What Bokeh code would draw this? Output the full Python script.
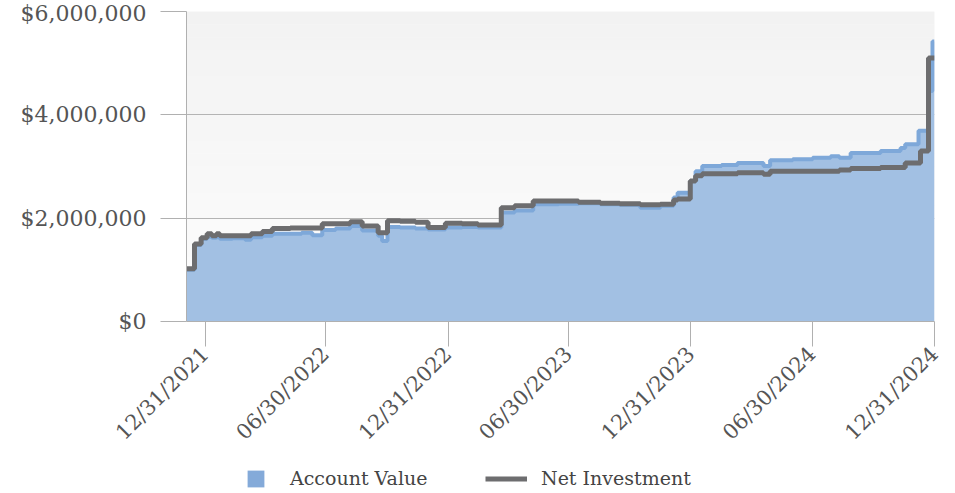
import math
import numpy as np
import pandas as pd
from bokeh.plotting import figure
from bokeh.layouts import column
from bokeh.models import (FixedTicker, NumeralTickFormatter, DatetimeTickFormatter,
                          Range1d, Legend, LegendItem, BoxAnnotation, ColumnDataSource)
from bokeh.embed import file_html
from bokeh.resources import INLINE

# ---------------- data ----------------
dates = [
    "2021-12-03", "2021-12-15", "2021-12-25", "2022-01-03", "2022-01-10", "2022-01-17",
    "2022-01-22", "2022-02-10", "2022-03-01", "2022-03-10", "2022-03-27", "2022-04-11",
    "2022-05-08", "2022-05-25", "2022-06-10", "2022-06-25", "2022-07-15", "2022-08-06",
    "2022-08-24", "2022-09-17", "2022-09-23", "2022-10-01", "2022-10-20", "2022-11-12",
    "2022-12-01", "2022-12-27", "2023-01-21", "2023-02-14", "2023-03-21", "2023-04-10",
    "2023-05-08", "2023-06-15", "2023-07-15", "2023-08-17", "2023-09-15", "2023-10-16",
    "2023-11-15", "2023-12-05", "2023-12-11", "2023-12-30", "2024-01-07", "2024-01-17",
    "2024-02-15", "2024-03-10", "2024-04-18", "2024-04-28", "2024-06-01", "2024-07-01",
    "2024-07-28", "2024-08-10", "2024-08-27", "2024-10-11", "2024-11-10", "2024-11-17",
    "2024-12-07", "2024-12-10", "2024-12-22", "2024-12-28", "2024-12-31",
]
account_value = [
    1000000, 1480000, 1600000, 1640000, 1620000, 1630000,
    1600000, 1610000, 1580000, 1630000, 1660000, 1700000,
    1700000, 1720000, 1670000, 1770000, 1800000, 1850000,
    1760000, 1660000, 1560000, 1830000, 1820000, 1800000,
    1780000, 1820000, 1830000, 1820000, 2110000, 2150000,
    2270000, 2280000, 2290000, 2270000, 2260000, 2200000,
    2240000, 2400000, 2490000, 2720000, 2910000, 3010000,
    3030000, 3070000, 3010000, 3120000, 3140000, 3170000,
    3200000, 3170000, 3260000, 3300000, 3360000, 3430000,
    3690000, 3690000, 4460000, 5420000, 5420000,
]
net_investment = [
    1020000, 1500000, 1620000, 1700000, 1660000, 1700000,
    1660000, 1660000, 1660000, 1700000, 1740000, 1800000,
    1810000, 1810000, 1810000, 1890000, 1890000, 1930000,
    1850000, 1720000, 1720000, 1950000, 1940000, 1920000,
    1820000, 1900000, 1890000, 1870000, 2200000, 2240000,
    2330000, 2330000, 2310000, 2290000, 2280000, 2260000,
    2270000, 2350000, 2370000, 2720000, 2820000, 2860000,
    2860000, 2880000, 2850000, 2910000, 2910000, 2910000,
    2910000, 2930000, 2960000, 2980000, 2980000, 3070000,
    3070000, 3300000, 5100000, 5100000, 5100000,
]
tick_dates = ["2021-12-31", "2022-06-30", "2022-12-31", "2023-06-30",
              "2023-12-31", "2024-06-30", "2024-12-31"]
y_ticks = [0, 2000000, 4000000, 6000000]
legend_labels = ["Account Value", "Net Investment"]

# ---------------- styling ----------------
FONT = "DejaVu Serif"
AREA_FILL = "#a2c0e3"
AREA_LINE = "#7ea8d9"
SWATCH = "#84aad9"
NET_COLOR = "#6d6d6f"
AXIS_COLOR = "#b0b0b0"
TEXT_COLOR = "#555555"
W = 947

x = pd.to_datetime(dates)
src = ColumnDataSource(dict(
    x=x,
    acct=np.array(account_value, dtype=float),
    net=np.array(net_investment, dtype=float),
    zero=np.zeros(len(dates)),
))

def ms(d):
    return pd.Timestamp(d).value / 1e6

p = figure(
    width=W, height=458,
    x_axis_type="datetime",
    x_range=Range1d(ms(dates[0]), ms(dates[-1])),
    y_range=Range1d(y_ticks[0], y_ticks[-1]),
    output_backend="svg", toolbar_location=None,
    min_border_left=186, min_border_right=13,
    min_border_top=11, min_border_bottom=137,
)
p.outline_line_color = None
p.border_fill_color = "white"
p.background_fill_color = "#f8f8f8"

# subtle vertical gradient in the plot area
n_bands = 24
top_c = np.array([0xf2, 0xf2, 0xf2])
bot_c = np.array([0xfd, 0xfd, 0xfd])
edges = np.linspace(y_ticks[0], y_ticks[-1], n_bands + 1)
for i in range(n_bands):
    t = (i + 0.5) / n_bands
    c = (bot_c + (top_c - bot_c) * t).round().astype(int)
    p.add_layout(BoxAnnotation(bottom=edges[i], top=edges[i + 1],
                               fill_color="#%02x%02x%02x" % tuple(c), fill_alpha=1,
                               line_color=None, level="image"))

# data
p.varea_step(x="x", y1="zero", y2="acct", source=src, step_mode="after",
             fill_color=AREA_FILL)
p.step(x="x", y="acct", source=src, mode="after", line_width=4, line_color=AREA_LINE)
p.step(x="x", y="net", source=src, mode="after", line_width=5, line_color=NET_COLOR)

# axes
p.xgrid.grid_line_color = None
p.ygrid.grid_line_color = "#b4b4b4"
p.ygrid.grid_line_width = 1

p.yaxis.ticker = FixedTicker(ticks=y_ticks)
p.yaxis.formatter = NumeralTickFormatter(format="$0,0")
p.yaxis.axis_line_color = AXIS_COLOR
p.yaxis.major_tick_line_color = AXIS_COLOR
p.yaxis.major_tick_out = 26
p.yaxis.major_tick_in = 0
p.yaxis.minor_tick_line_color = None
p.yaxis.major_label_standoff = 14
p.yaxis.major_label_text_font = FONT
p.yaxis.major_label_text_font_size = "22px"
p.yaxis.major_label_text_color = TEXT_COLOR

fmt = "%m/%d/%Y"
p.xaxis.ticker = FixedTicker(ticks=[ms(d) for d in tick_dates])
p.xaxis.formatter = DatetimeTickFormatter(days=fmt, months=fmt, years=fmt,
                                          hours=fmt, minutes=fmt, seconds=fmt)
p.xaxis.axis_line_color = AXIS_COLOR
p.xaxis.major_tick_line_color = AXIS_COLOR
p.xaxis.major_tick_out = 25
p.xaxis.major_tick_in = 0
p.xaxis.minor_tick_line_color = None
p.xaxis.major_label_orientation = math.pi / 4
p.xaxis.major_label_standoff = 4
p.xaxis.major_label_text_font = FONT
p.xaxis.major_label_text_font_size = "21px"
p.xaxis.major_label_text_color = TEXT_COLOR

# ---------------- legend strip (frame aligned with the chart's frame) ----------------
lf = figure(width=W, height=35, x_range=Range1d(0, 1), y_range=Range1d(0, 1),
            output_backend="svg", toolbar_location=None,
            x_axis_location=None, y_axis_location=None,
            min_border=0, min_border_left=0, min_border_right=0,
            min_border_top=0, min_border_bottom=0)
lf.outline_line_color = None
lf.grid.visible = False
nan = float("nan")
sw = lf.quad(left=[nan], right=[nan], top=[nan], bottom=[nan],
             fill_color=SWATCH, line_color=None)
ln = lf.line(x=[nan, nan], y=[nan, nan], line_width=5, line_color=NET_COLOR)

common = dict(orientation="horizontal", padding=0, margin=0, spacing=0,
              border_line_color=None, background_fill_alpha=0,
              label_text_font=FONT, label_text_font_size="19px",
              label_text_color="#444444", glyph_height=21, label_height=21)
leg1 = Legend(items=[LegendItem(label=legend_labels[0], renderers=[sw])],
              location=(59, 4), glyph_width=21, label_standoff=24, **common)
leg2 = Legend(items=[LegendItem(label=legend_labels[1], renderers=[ln])],
              location=(299, 4), glyph_width=42, label_standoff=14, **common)
lf.add_layout(leg1)
lf.add_layout(leg2)

layout = column(p, lf, spacing=0)
open("out.html", "w").write(file_html(layout, INLINE))
